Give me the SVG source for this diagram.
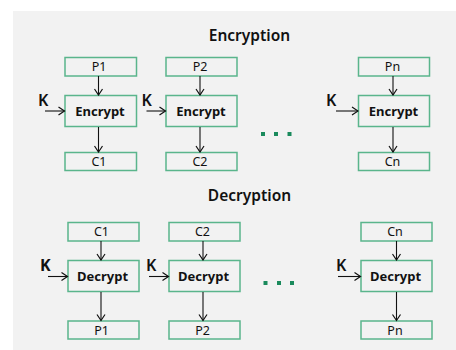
<svg xmlns="http://www.w3.org/2000/svg" width="456" height="350" viewBox="0 0 456 350">
  <defs>
    <marker id="arr" markerWidth="8" markerHeight="10" refX="7" refY="5" orient="auto" markerUnits="userSpaceOnUse">
      <path d="M1,1 L7,5 L1,9" fill="none" stroke="#111" stroke-width="1.2"/>
    </marker>
    <style>
      .bg { fill: #f2f2f2; }
      .box { fill: #f2f2f2; stroke: #5ab58c; stroke-width: 1.5; }
      .lbl { font-family: "Noto Sans", "Open Sans", sans-serif; font-size: 12.5px; fill: #111; text-anchor: middle; }
      .op { font-family: "Noto Sans", "Open Sans", sans-serif; font-size: 13px; font-weight: bold; fill: #111; text-anchor: middle; }
      .key { font-family: "Noto Sans", "Open Sans", sans-serif; font-size: 16px; font-weight: 600; fill: #111; }
      .title { font-family: "Noto Sans", "Open Sans", sans-serif; font-size: 15.5px; font-weight: 600; fill: #111; text-anchor: middle; }
      .link { stroke: #111; stroke-width: 1.1; fill: none; marker-end: url(#arr); }
      .dot { fill: #1a8a5c; }
    </style>
  </defs>

  <rect class="bg" x="13" y="11" width="443" height="339"/>

  <text class="title" x="249.5" y="40.5">Encryption</text>
  <text class="title" x="249.5" y="201">Decryption</text>

  <!-- encryption chain -->
  <g id="p1"><rect class="box" x="65" y="57.5" width="71.5" height="18.5"/><text class="lbl" x="99" y="71">P1</text></g>
  <g id="enc1"><rect class="box" x="65" y="95.5" width="71.5" height="31"/><text class="op" x="100" y="116">Encrypt</text></g>
  <g id="c1"><rect class="box" x="65" y="152.5" width="71.5" height="18"/><text class="lbl" x="99" y="166">C1</text></g>
  <g id="k1"><text class="key" x="38" y="106">K</text></g>

  <g id="p2"><rect class="box" x="166" y="57.5" width="71" height="18.5"/><text class="lbl" x="200" y="71">P2</text></g>
  <g id="enc2"><rect class="box" x="166" y="95.5" width="71" height="31"/><text class="op" x="201" y="116">Encrypt</text></g>
  <g id="c2"><rect class="box" x="166" y="152.5" width="71" height="18"/><text class="lbl" x="200" y="166">C2</text></g>
  <g id="k2"><text class="key" x="141.5" y="106">K</text></g>

  <g id="pn"><rect class="box" x="358.5" y="57.5" width="71" height="18.5"/><text class="lbl" x="392.5" y="71">Pn</text></g>
  <g id="encn"><rect class="box" x="358.5" y="95.5" width="71" height="31"/><text class="op" x="393.5" y="116">Encrypt</text></g>
  <g id="cn"><rect class="box" x="358.5" y="152.5" width="71" height="18"/><text class="lbl" x="392.5" y="166">Cn</text></g>
  <g id="kn"><text class="key" x="326" y="106">K</text></g>

  <g id="enc-dots">
    <rect class="dot" x="261" y="132" width="4" height="4"/>
    <rect class="dot" x="274" y="132" width="4" height="4"/>
    <rect class="dot" x="287.5" y="132" width="4" height="4"/>
  </g>

  <!-- decryption chain -->
  <g id="dc1"><rect class="box" x="68" y="222.5" width="71" height="18.5"/><text class="lbl" x="101.5" y="236">C1</text></g>
  <g id="dec1"><rect class="box" x="68" y="260.5" width="71" height="31"/><text class="op" x="102.5" y="281">Decrypt</text></g>
  <g id="dp1"><rect class="box" x="68" y="321" width="71" height="18"/><text class="lbl" x="101.5" y="334.5">P1</text></g>
  <g id="dk1"><text class="key" x="40" y="271" style="font-weight:bold">K</text></g>

  <g id="dc2"><rect class="box" x="169" y="222.5" width="71" height="18.5"/><text class="lbl" x="202.5" y="236">C2</text></g>
  <g id="dec2"><rect class="box" x="169" y="260.5" width="71" height="31"/><text class="op" x="203.5" y="281">Decrypt</text></g>
  <g id="dp2"><rect class="box" x="169" y="321" width="71" height="18"/><text class="lbl" x="202.5" y="334.5">P2</text></g>
  <g id="dk2"><text class="key" x="146" y="271">K</text></g>

  <g id="dcn"><rect class="box" x="361" y="222.5" width="71" height="18.5"/><text class="lbl" x="395" y="236">Cn</text></g>
  <g id="decn"><rect class="box" x="361" y="260.5" width="71" height="31"/><text class="op" x="395.5" y="281">Decrypt</text></g>
  <g id="dpn"><rect class="box" x="361" y="321" width="71" height="18"/><text class="lbl" x="395" y="334.5">Pn</text></g>
  <g id="dkn"><text class="key" x="336" y="271">K</text></g>

  <g id="dec-dots">
    <rect class="dot" x="263.5" y="281" width="4" height="4"/>
    <rect class="dot" x="277" y="281" width="4" height="4"/>
    <rect class="dot" x="290" y="281" width="4" height="4"/>
  </g>

  <!-- connectors -->
  <g id="connectors">
    <line class="link" x1="98.5" y1="76" x2="98.5" y2="95"/>
    <line class="link" x1="98.5" y1="127" x2="98.5" y2="152"/>
    <line class="link" x1="45" y1="111" x2="64.5" y2="111"/>
    <line class="link" x1="200" y1="76" x2="200" y2="95"/>
    <line class="link" x1="200" y1="127" x2="200" y2="152"/>
    <line class="link" x1="146.5" y1="111" x2="165.5" y2="111"/>
    <line class="link" x1="393" y1="76" x2="393" y2="95"/>
    <line class="link" x1="393" y1="127" x2="393" y2="152"/>
    <line class="link" x1="336" y1="111" x2="358" y2="111"/>

    <line class="link" x1="101" y1="241" x2="101" y2="260"/>
    <line class="link" x1="101" y1="292" x2="101" y2="320.5"/>
    <line class="link" x1="48" y1="276.5" x2="67.5" y2="276.5"/>
    <line class="link" x1="203" y1="241" x2="203" y2="260"/>
    <line class="link" x1="203" y1="292" x2="203" y2="320.5"/>
    <line class="link" x1="149" y1="276.5" x2="168.5" y2="276.5"/>
    <line class="link" x1="396.5" y1="241" x2="396.5" y2="260"/>
    <line class="link" x1="396.5" y1="292" x2="396.5" y2="320.5"/>
    <line class="link" x1="338" y1="276.5" x2="360.5" y2="276.5"/>
  </g>
</svg>
